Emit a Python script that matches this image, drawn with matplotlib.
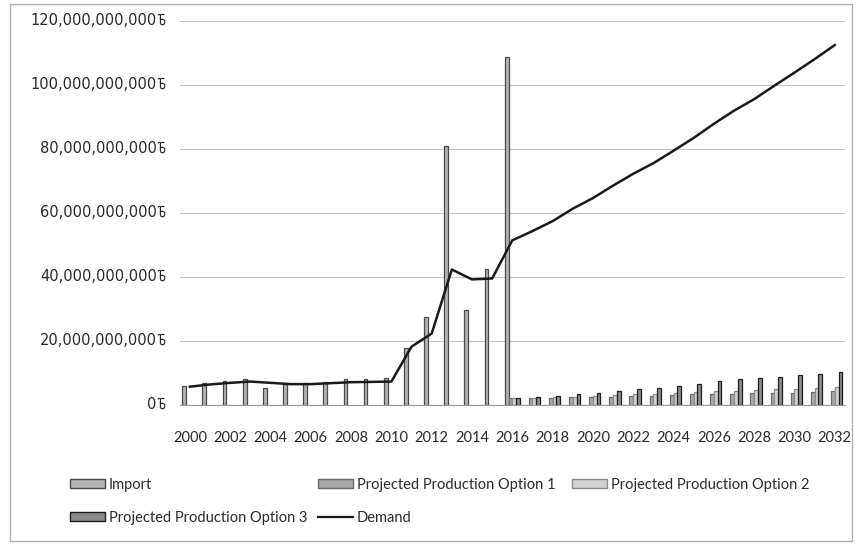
import matplotlib
matplotlib.use('AGG')

import numpy as np
import matplotlib.pyplot as plt
from matplotlib.patches import Patch, Rectangle
from matplotlib.lines import Line2D
from matplotlib.path import Path
from matplotlib.transforms import blended_transform_factory, offset_copy

# Years on the category axis
years = list(range(2000, 2033))

# Values in billions of taka
imports = [5.9, 6.8, 7.5, 8.1, 5.4, 6.4, 6.8, 7.3, 8.1, 8.1, 8.3,
           17.7, 27.5, 80.8, 29.6, 42.4, 108.7]
opt1 = [2.1, 2.1, 2.3, 2.4, 2.5, 2.6, 2.7, 2.8, 3.1, 3.3, 3.4, 3.4,
        3.6, 3.6, 3.8, 3.9, 4.2]
opt2 = [2.1, 2.1, 2.4, 2.6, 2.8, 3.1, 3.3, 3.4, 3.8, 3.9, 4.2, 4.4,
        4.7, 4.9, 5.1, 5.3, 5.5]
opt3 = [2.1, 2.4, 2.8, 3.3, 3.8, 4.4, 4.9, 5.4, 5.9, 6.6, 7.4, 8.0,
        8.4, 8.8, 9.3, 9.8, 10.2]
demand = [5.7, 6.4, 6.9, 7.3, 6.9, 6.5, 6.5, 6.8, 7.1, 7.2, 7.3,
          18.2, 22.3, 42.3, 39.2, 39.5, 51.4, 54.3, 57.4, 61.3, 64.6,
          68.5, 72.2, 75.5, 79.4, 83.4, 87.8, 91.9, 95.5, 99.7, 103.8,
          108.0, 112.4]
proj_start = 2016
y_ticks = [0, 20e9, 40e9, 60e9, 80e9, 100e9, 120e9]

labels = ['Import', 'Projected Production Option 1',
          'Projected Production Option 2', 'Projected Production Option 3',
          'Demand']

tick_font = ['DejaVu Sans']
text_font = ['Lato', 'DejaVu Sans']
ink = '#2a2a2a'

x = np.arange(len(years))
x_imp = x[:len(imports)]
x_proj = x[years.index(proj_start):]
w = 0.75 / 4

faces = ['#b4b4b4', '#a8a8a8', '#d2d2d2', '#8c8c8c']
edges = ['#4a4a4a', '#6a6a6a', '#8c8c8c', '#1e1e1e']

fig = plt.figure(figsize=(8.56, 5.45), dpi=100)
ax = fig.add_axes([0.210, 0.257, 0.777, 0.705])

series = [(x_imp, imports), (x_proj, opt1), (x_proj, opt2), (x_proj, opt3)]
for i, (xs, vals) in enumerate(series):
    ax.bar(xs + (i - 1.5) * w, np.array(vals) * 1e9, width=w,
           color=faces[i], edgecolor=edges[i], linewidth=0.9, zorder=2)

ax.plot(x, np.array(demand) * 1e9, color='#1a1a1a', linewidth=1.8, zorder=3)

ax.set_xlim(-0.5, len(years) - 0.5)
ax.set_ylim(0, 120e9)
ax.set_yticks(y_ticks)
ax.set_yticklabels([])
ax.set_xticks(x[::2])
ax.set_xticklabels([str(y) for y in years[::2]])

ax.grid(axis='y', color='#c4c4c4', linewidth=0.8, zorder=0)
ax.set_axisbelow(True)
for s in ['top', 'right', 'left']:
    ax.spines[s].set_visible(False)
ax.spines['bottom'].set_color('#9a9a9a')
ax.tick_params(axis='both', length=0, colors=ink)
ax.tick_params(axis='x', pad=19)
for t in ax.get_xticklabels():
    t.set_family(text_font)
    t.set_fontsize(10.5)

# Taka sign drawn as a small stroked path (no installed font carries it)
taka = Path(
    [(-0.32, 0.38), (-0.28, 0.46), (0.28, 0.46),
     (-0.10, 0.46), (-0.10, -0.30),
     (-0.10, -0.56), (0.30, -0.56), (0.30, -0.22),
     (0.30, 0.08), (-0.02, 0.06), (-0.10, -0.06)],
    [Path.MOVETO, Path.LINETO, Path.LINETO,
     Path.MOVETO, Path.LINETO,
     Path.CURVE4, Path.CURVE4, Path.CURVE4,
     Path.CURVE4, Path.CURVE4, Path.CURVE4])

lab_trans = blended_transform_factory(ax.transAxes, ax.transData)
num_trans = offset_copy(lab_trans, fig=fig, x=-16.5, y=0, units='points')
sign_trans = offset_copy(lab_trans, fig=fig, x=-13.2, y=1.3, units='points')
for v in y_ticks:
    ax.text(0, v, f'{v:,.0f}', transform=num_trans, ha='right', va='center',
            family=tick_font, fontsize=10.5, color=ink, clip_on=False)
    ax.plot([0], [v], transform=sign_trans, marker=taka, markersize=8.8,
            markerfacecolor='none', markeredgecolor=ink,
            markeredgewidth=0.85, linestyle='none', clip_on=False)

# Legend entries laid out as two rows
handles = [Patch(facecolor=faces[i], edgecolor=edges[i], linewidth=1.0)
           for i in range(4)]
handles.append(Line2D([], [], color='#1a1a1a', linewidth=1.6))
spots = [(70, 485), (318, 485), (572, 485), (70, 518), (318, 518)]
for h, lab, (px, py) in zip(handles, labels, spots):
    fig.legend(handles=[h], labels=[lab], loc='center left',
               bbox_to_anchor=(px / 856, 1 - py / 545), frameon=False,
               borderpad=0, borderaxespad=0, handlelength=2.4,
               handleheight=0.6, handletextpad=0.25,
               prop={'family': text_font, 'size': 10.5},
               labelcolor=ink)

fig.patches.append(Rectangle((10 / 856, 4 / 545), 842 / 856, 537 / 545,
                             transform=fig.transFigure, fill=False,
                             edgecolor='#b0b0b0', linewidth=1.0))

plt.savefig('out.png', dpi=100)
